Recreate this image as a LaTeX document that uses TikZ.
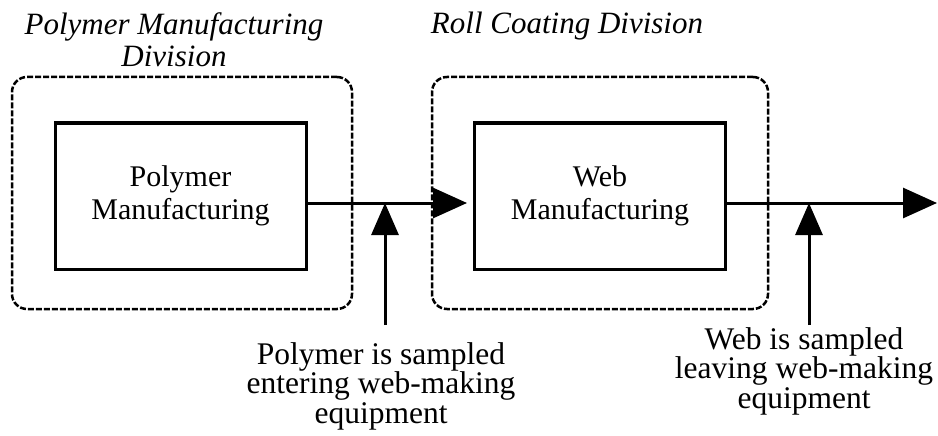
\documentclass[tikz,border=0pt]{standalone}
\usepackage{fontspec}
\setmainfont{Liberation Serif}
\usetikzlibrary{arrows.meta}
\begin{document}
\begin{tikzpicture}[x=1pt,y=-1pt,
  txt/.style={font=\fontsize{31.5}{29.5}\selectfont, align=center, inner sep=0pt},
  ttl/.style={font=\fontsize{31}{32}\selectfont\itshape, align=center, inner sep=0pt, anchor=north},
  procbox/.style={draw, line width=3pt, minimum width=251pt, minimum height=146pt, align=center, inner sep=0pt, font=\fontsize{30}{33}\selectfont},
  divbox/.style={draw, line width=2.5pt, dash pattern=on 6pt off 2pt, rounded corners=15pt, minimum height=232pt},
  flow/.style={line width=3pt, -{Triangle[length=34pt,width=30pt]}},
  flowup/.style={line width=3pt, -{Triangle[length=32pt,width=27pt]}}
]
\useasboundingbox (0,0) rectangle (938,436);
\node[divbox, minimum width=340pt] (pmd) at (182,193) {};
\node[divbox, minimum width=336pt] (rcd) at (600,193) {};
\node[ttl] (t1) at (174,12) {Polymer Manufacturing\\Division};
\node[ttl] (t2) at (567,12) {Roll Coating Division};
\node[procbox] (pm) at (180.5,196) {Polymer\\Manufacturing};
\node[procbox] (wm) at (600,196) {Web\\Manufacturing};
\coordinate (out) at (937,203);
\draw[flow] ([yshift=-7pt]pm.east) -- ([xshift=-6pt,yshift=-7pt]wm.west);
\draw[flow] ([yshift=-7pt]wm.east) -- (out);
\coordinate (s1) at (385,325);
\coordinate (j1) at (385,203);
\coordinate (s2) at (809,325);
\coordinate (j2) at (809,203);
\draw[flowup] (s1) -- (j1);
\draw[flowup] (s2) -- (j2);
\node[txt, anchor=north] (l1) at (381,342) {Polymer is sampled\\entering web-making\\equipment};
\node[txt, anchor=north] (l2) at (804,327) {Web is sampled\\leaving web-making\\equipment};
\end{tikzpicture}
\end{document}
